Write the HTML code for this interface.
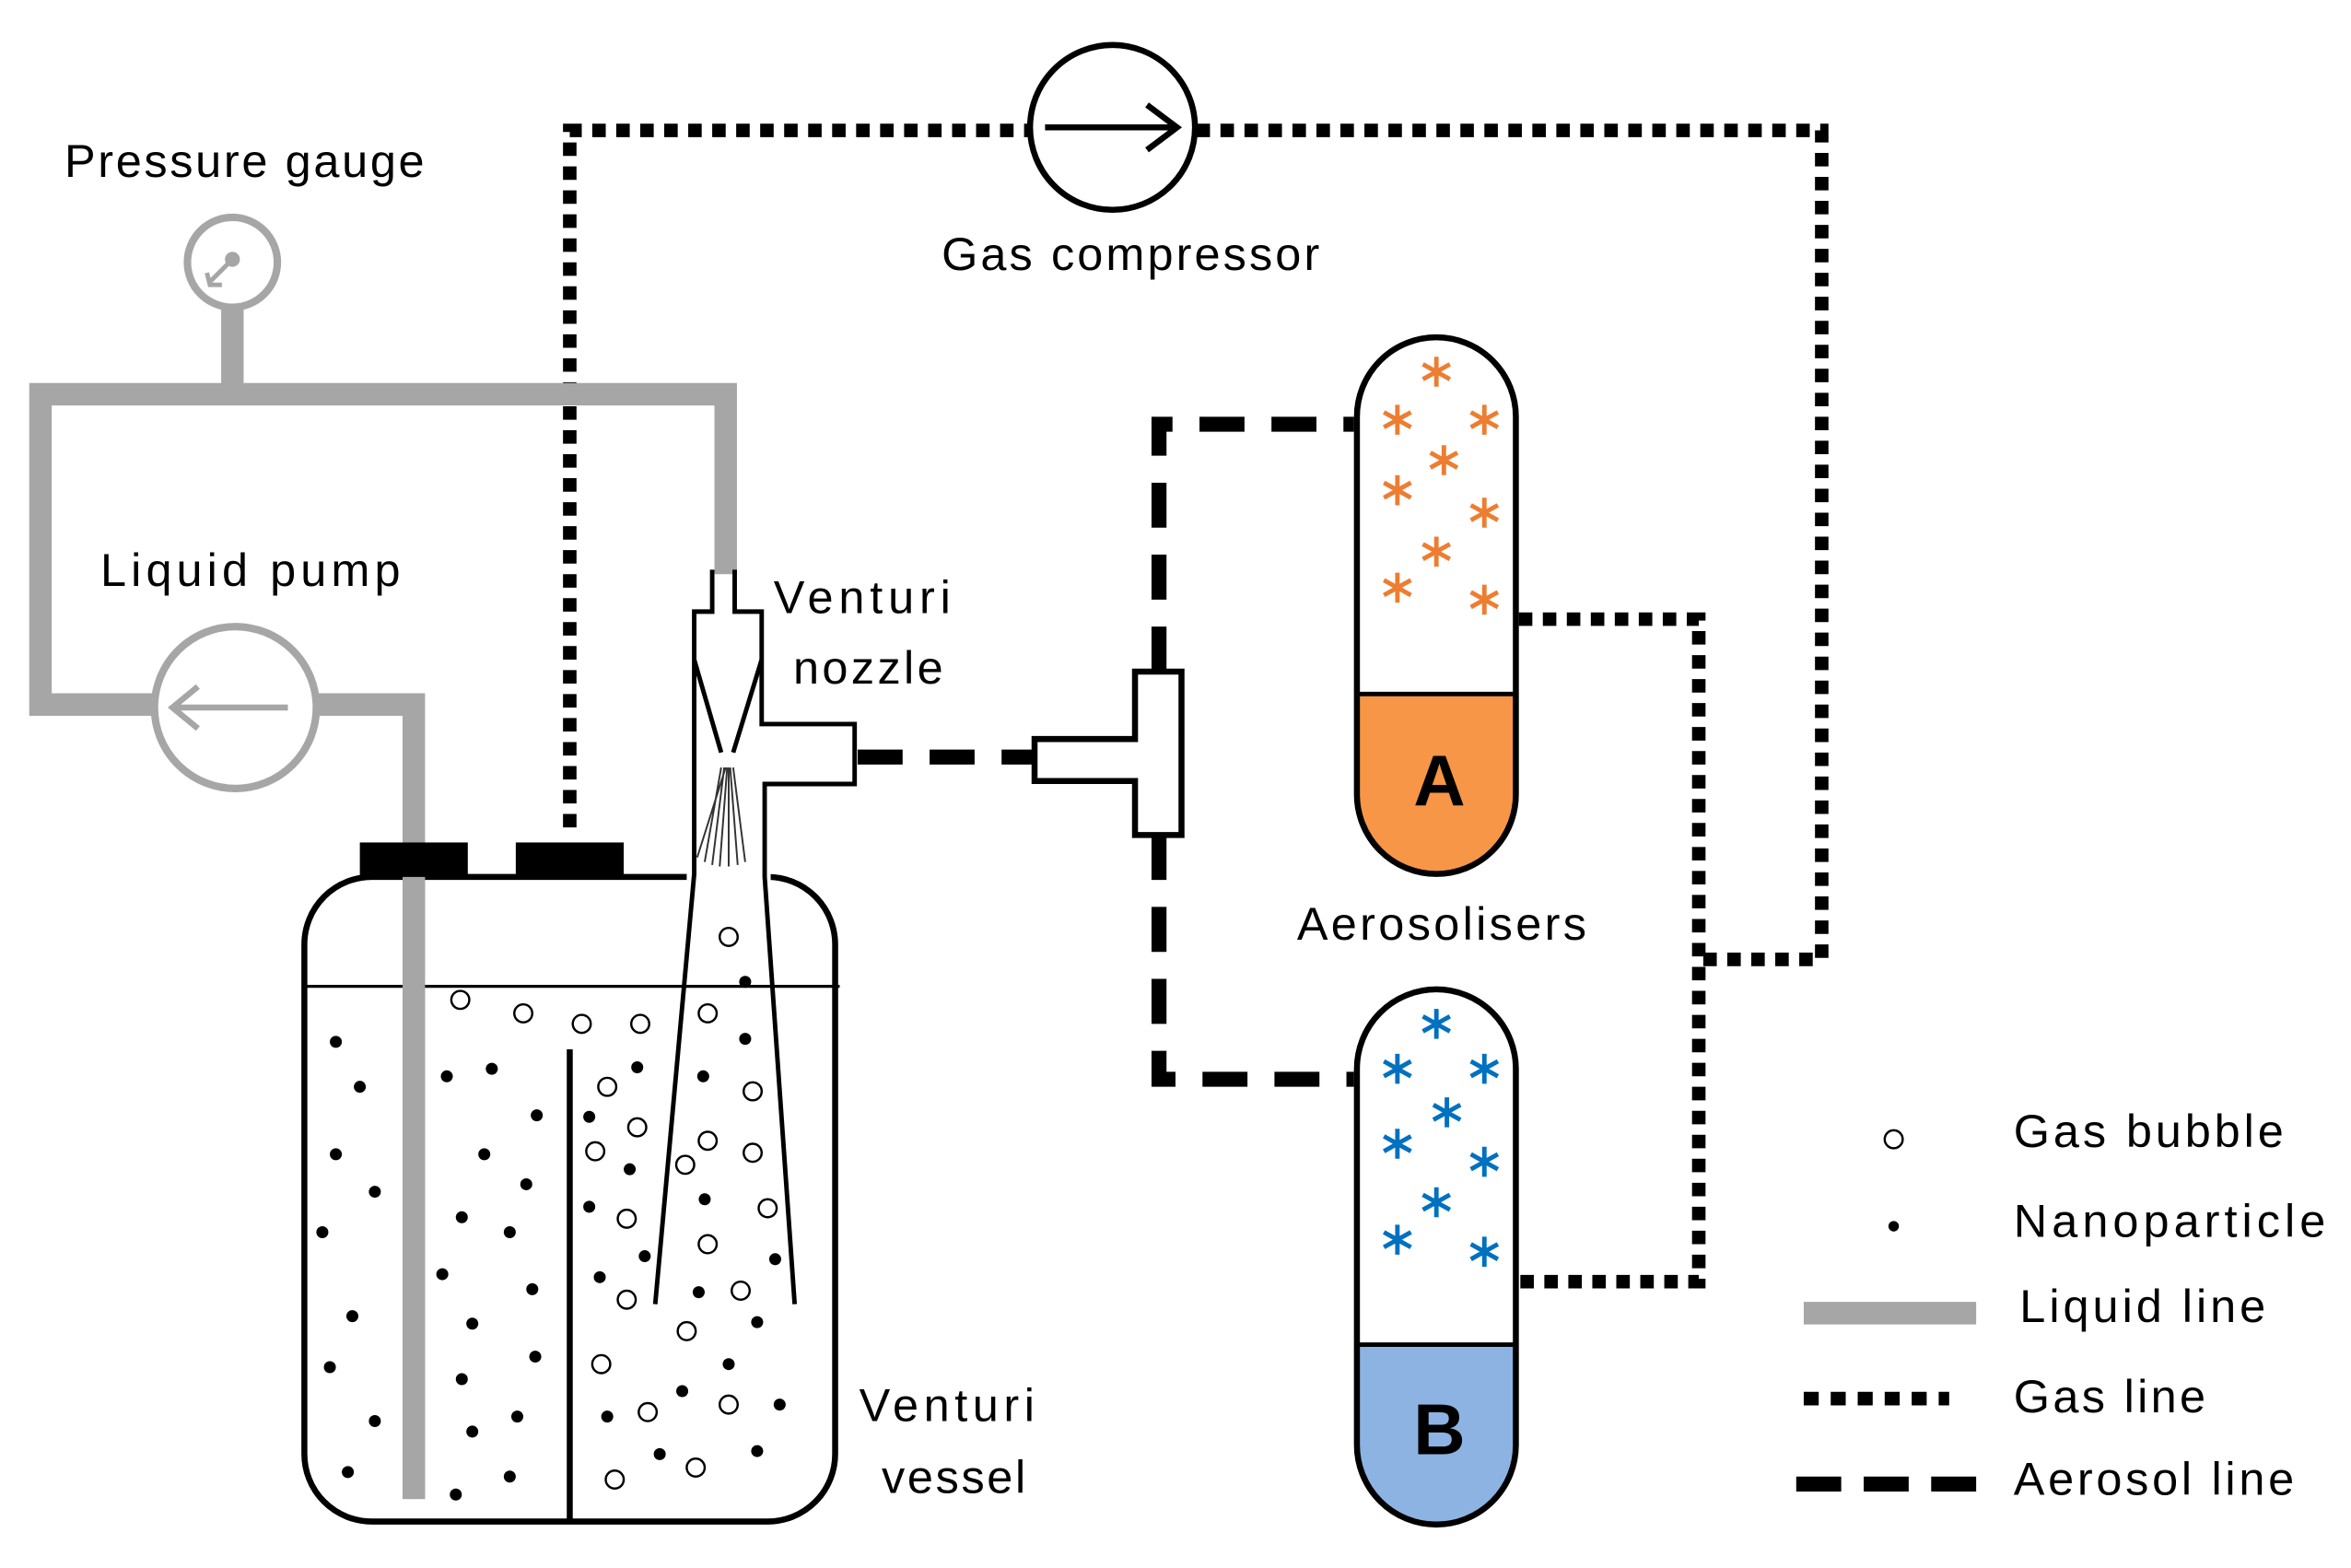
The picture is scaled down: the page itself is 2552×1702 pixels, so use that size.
<!DOCTYPE html>
<html><head><meta charset="utf-8"><style>html,body{margin:0;padding:0;background:#fff}svg{display:block}</style></head>
<body>
<svg width="2552" height="1702" viewBox="0 0 1568 1046" preserveAspectRatio="none" xmlns="http://www.w3.org/2000/svg" font-family="Liberation Sans, sans-serif">
<rect width="1568" height="1046" fill="#fff"/>
<!-- gas lines -->
<g fill="none" stroke="#000" stroke-width="9" stroke-dasharray="9 7">
<path d="M380 552 V87 H686"/>
<path d="M798 87 H1215 V640 H1133"/>
<path d="M1013 413 H1133 V855 H1013"/>
</g>
<!-- compressor -->
<circle cx="742" cy="85" r="55" fill="#fff" stroke="#000" stroke-width="4"/>
<path d="M697 85 H783 M765 70 L785 85 L765 100" fill="none" stroke="#000" stroke-width="4"/>
<!-- liquid lines -->
<g fill="none" stroke="#a6a6a6" stroke-width="15">
<path d="M155 205 V263"/>
<path d="M484 383 V263 H27 V470 H102"/>
<path d="M212 470 H276 V1000"/>
</g>
<circle cx="155" cy="175" r="30" fill="#fff" stroke="#a6a6a6" stroke-width="5"/>
<circle cx="155" cy="173" r="5" fill="#a6a6a6"/>
<path d="M155 173 L140 188 M138 182 L140 190 L148 190" stroke="#a6a6a6" stroke-width="3" fill="none"/>
<circle cx="157" cy="472" r="54" fill="#fff" stroke="#a6a6a6" stroke-width="5"/>
<path d="M192 472 H115 M132 458 L115 472 L132 486" stroke="#a6a6a6" stroke-width="4" fill="none"/>
<!-- vessel -->
<rect x="203" y="585" width="354" height="430" rx="45" fill="none" stroke="#000" stroke-width="4"/>
<line x1="203" y1="658" x2="560" y2="658" stroke="#000" stroke-width="2"/>
<rect x="240" y="562" width="72" height="23" fill="#000"/>
<rect x="344" y="562" width="72" height="23" fill="#000"/>
<path d="M276 585 V1000" stroke="#a6a6a6" stroke-width="15"/>
<line x1="380" y1="700" x2="380" y2="1015" stroke="#000" stroke-width="4"/>
<!-- nozzle -->
<rect x="458" y="582" width="56" height="8" fill="#fff"/>
<g fill="none" stroke="#000" stroke-width="3">
<path d="M475 380 V408 H463 V583 L437 870"/>
<path d="M490 380 V408 H508 V483 H570 V523 H510 V585 L530 870"/>
</g>
<path d="M463 440 L481 502 M508 440 L489 502" stroke="#000" stroke-width="3" fill="none"/>
<g stroke="#333" stroke-width="1.2" fill="none">
<path d="M481 512 L470 575 M483 512 L475 577 M485 512 L480 578 M486 512 L486 578 M487 512 L492 577 M489 512 L497 575 M484 512 L465 572"/>
</g>
<!-- aerosol dashed -->
<g fill="none" stroke="#000" stroke-width="10" stroke-dasharray="30 18">
<path d="M572 505 H690"/>
<path d="M773 448 V283 H903"/>
<path d="M773 557 V720 H903"/>
</g>
<!-- T piece -->
<path d="M690 493 H757 V448 H788 V557 H757 V521 H690 Z" fill="#fff" stroke="#000" stroke-width="4"/>
<!-- aerosoliser A -->
<path d="M905 463 H1011 V530 A53 53 0 0 1 905 530 Z" fill="#f79646"/>
<rect x="905" y="225" width="106" height="358" rx="53" fill="none" stroke="#000" stroke-width="4"/>
<line x1="905" y1="463" x2="1011" y2="463" stroke="#000" stroke-width="3"/>
<text x="960" y="537" font-size="48" font-weight="bold" text-anchor="middle">A</text>
<!-- aerosoliser B -->
<path d="M905 897 H1011 V962 A53 53 0 0 1 905 962 Z" fill="#8db3e2"/>
<rect x="905" y="660" width="106" height="357" rx="53" fill="none" stroke="#000" stroke-width="4"/>
<line x1="905" y1="897" x2="1011" y2="897" stroke="#000" stroke-width="3"/>
<text x="960" y="970" font-size="48" font-weight="bold" text-anchor="middle">B</text>
<defs>
<g id="ast"><path d="M0 -10 V10 M-9 -5 L9 5 M-9 5 L9 -5" stroke-width="3" fill="none"/></g>
</defs>
<g stroke="#ed7d31">
<use href="#ast" x="958" y="248"/><use href="#ast" x="932" y="280"/><use href="#ast" x="990" y="280"/>
<use href="#ast" x="963" y="307"/><use href="#ast" x="932" y="327"/><use href="#ast" x="990" y="342"/>
<use href="#ast" x="958" y="368"/><use href="#ast" x="932" y="392"/><use href="#ast" x="990" y="400"/>
</g>
<g stroke="#0070c0">
<use href="#ast" x="958" y="683"/><use href="#ast" x="932" y="713"/><use href="#ast" x="990" y="713"/>
<use href="#ast" x="965" y="742"/><use href="#ast" x="932" y="763"/><use href="#ast" x="990" y="775"/>
<use href="#ast" x="958" y="802"/><use href="#ast" x="932" y="827"/><use href="#ast" x="990" y="835"/>
</g>
<!-- bubbles -->
<g fill="#fff" stroke="#000" stroke-width="1.5">
<circle cx="307" cy="667" r="6"/><circle cx="349" cy="676" r="6"/><circle cx="388" cy="683" r="6"/><circle cx="427" cy="683" r="6"/>
<circle cx="486" cy="625" r="6"/><circle cx="472" cy="676" r="6"/><circle cx="405" cy="725" r="6"/><circle cx="425" cy="752" r="6"/>
<circle cx="397" cy="768" r="6"/><circle cx="457" cy="777" r="6"/><circle cx="472" cy="761" r="6"/><circle cx="502" cy="769" r="6"/>
<circle cx="502" cy="728" r="6"/><circle cx="418" cy="813" r="6"/><circle cx="472" cy="830" r="6"/><circle cx="512" cy="806" r="6"/>
<circle cx="418" cy="867" r="6"/><circle cx="494" cy="861" r="6"/><circle cx="458" cy="888" r="6"/><circle cx="401" cy="910" r="6"/>
<circle cx="432" cy="942" r="6"/><circle cx="486" cy="937" r="6"/><circle cx="410" cy="987" r="6"/><circle cx="464" cy="979" r="6"/>
<circle cx="1263" cy="760" r="6"/>
</g>
<!-- dots -->
<g fill="#000">
<circle cx="224" cy="695" r="4"/><circle cx="240" cy="725" r="4"/><circle cx="298" cy="718" r="4"/><circle cx="328" cy="713" r="4"/>
<circle cx="358" cy="744" r="4"/><circle cx="224" cy="770" r="4"/><circle cx="250" cy="795" r="4"/><circle cx="323" cy="770" r="4"/>
<circle cx="351" cy="790" r="4"/><circle cx="215" cy="822" r="4"/><circle cx="308" cy="812" r="4"/><circle cx="340" cy="822" r="4"/>
<circle cx="295" cy="850" r="4"/><circle cx="355" cy="860" r="4"/><circle cx="235" cy="878" r="4"/><circle cx="315" cy="883" r="4"/>
<circle cx="220" cy="912" r="4"/><circle cx="308" cy="920" r="4"/><circle cx="357" cy="905" r="4"/><circle cx="250" cy="948" r="4"/>
<circle cx="315" cy="955" r="4"/><circle cx="345" cy="945" r="4"/><circle cx="232" cy="982" r="4"/><circle cx="304" cy="997" r="4"/>
<circle cx="340" cy="985" r="4"/><circle cx="497" cy="655" r="4"/><circle cx="497" cy="693" r="4"/><circle cx="469" cy="718" r="4"/>
<circle cx="425" cy="712" r="4"/><circle cx="393" cy="745" r="4"/><circle cx="420" cy="780" r="4"/><circle cx="470" cy="800" r="4"/>
<circle cx="393" cy="805" r="4"/><circle cx="430" cy="838" r="4"/><circle cx="517" cy="840" r="4"/><circle cx="400" cy="852" r="4"/>
<circle cx="466" cy="862" r="4"/><circle cx="505" cy="882" r="4"/><circle cx="486" cy="910" r="4"/><circle cx="455" cy="928" r="4"/>
<circle cx="405" cy="945" r="4"/><circle cx="520" cy="937" r="4"/><circle cx="440" cy="970" r="4"/><circle cx="505" cy="968" r="4"/>
<circle cx="1263" cy="818" r="3.5"/>
</g>
<!-- legend -->
<line x1="1203" y1="876" x2="1318" y2="876" stroke="#a6a6a6" stroke-width="15"/>
<line x1="1203" y1="933" x2="1300" y2="933" stroke="#000" stroke-width="9" stroke-dasharray="10 8"/>
<line x1="1198" y1="990" x2="1318" y2="990" stroke="#000" stroke-width="10" stroke-dasharray="30 15"/>
<!-- text -->
<g font-size="31" fill="#000">
<text x="43" y="118" textLength="240">Pressure gauge</text>
<text x="628" y="180" textLength="252">Gas compressor</text>
<text x="67" y="391" textLength="200">Liquid pump</text>
<text x="516" y="409" textLength="118">Venturi</text>
<text x="529" y="456" textLength="100">nozzle</text>
<text x="865" y="627" textLength="193">Aerosolisers</text>
<text x="573" y="948" textLength="117">Venturi</text>
<text x="588" y="996" textLength="96">vessel</text>
<text x="1343" y="765" textLength="180">Gas bubble</text>
<text x="1343" y="825" textLength="208">Nanoparticle</text>
<text x="1347" y="882" textLength="164">Liquid line</text>
<text x="1343" y="942" textLength="128">Gas line</text>
<text x="1343" y="997" textLength="187">Aerosol line</text>
</g>
</svg>
</body></html>
